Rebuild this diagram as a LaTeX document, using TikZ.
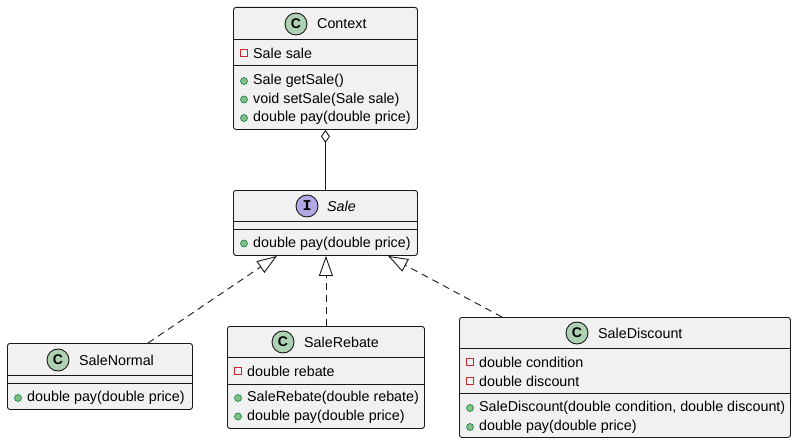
\documentclass[tikz,border=0pt]{standalone}
\usepackage{fontspec}
\setmainfont{Liberation Sans}
\newfontfamily\iconmono{Liberation Mono}
\usetikzlibrary{arrows.meta,calc}
\definecolor{boxfill}{HTML}{F1F1F1}
\definecolor{boxline}{HTML}{181818}
\definecolor{cfill}{HTML}{ADD1B2}
\definecolor{ifill}{HTML}{B4A7E5}
\definecolor{privred}{HTML}{C82930}
\definecolor{pubfill}{HTML}{84BE84}
\definecolor{publine}{HTML}{038048}
\tikzset{
  x=1pt,y=-1pt,
  umlbox/.style={draw=boxline,fill=boxfill,line width=0.9pt,rounded corners=2.5pt,anchor=north west,inner sep=0pt},
  sepline/.style={draw=boxline,line width=0.9pt},
  txt/.style={anchor=west,inner sep=0pt,font=\fontsize{14.3}{16}\selectfont,text=black},
  ticon/.style={circle,draw=boxline,line width=0.9pt,minimum size=22pt,inner sep=0pt,font=\fontsize{14}{16}\selectfont\bfseries},
  priv/.style={draw=privred,line width=0.9pt,minimum size=7pt,inner sep=0pt,rectangle},
  pub/.style={circle,draw=publine,fill=pubfill,line width=0.6pt,minimum size=7pt,inner sep=0pt},
  conn/.style={draw=boxline,line width=0.9pt},
  realize/.style={conn,dash pattern=on 7pt off 5pt,-{Triangle[open,length=20pt,width=14pt]}},
}
\begin{document}
\begin{tikzpicture}
\useasboundingbox (0,0) rectangle (796,444);
% ---------- Context
\node[umlbox,minimum width=184pt,minimum height=122pt] (ctx) at (233,7) {};
\draw[sepline] (233,39) -- (417,39);
\draw[sepline] (233,65) -- (417,65);
\node[ticon,fill=cfill] (ctxI) at (296,24) {C};
\node[txt] (ctxT) at (317,24) {Context};
\node[priv] (ctxa1i) at (244,53) {};
\node[txt] (ctxa1) at (253,53) {Sale sale};
\node[pub] (ctxm1i) at (244,81) {};
\node[txt] (ctxm1) at (253,81) {Sale getSale()};
\node[pub] (ctxm2i) at (244,99.5) {};
\node[txt] (ctxm2) at (253,99.5) {void setSale(Sale sale)};
\node[pub] (ctxm3i) at (244,118) {};
\node[txt] (ctxm3) at (253,118) {double pay(double price)};
% ---------- Sale
\node[umlbox,minimum width=184pt,minimum height=65pt] (sale) at (233,190) {};
\draw[sepline] (233,221) -- (417,221);
\draw[sepline] (233,229) -- (417,229);
\node[ticon,fill=ifill,font=\fontsize{15}{16}\selectfont\iconmono\bfseries] (saleI) at (307,206) {I};
\node[txt,font=\fontsize{14.3}{16}\selectfont\itshape] (saleT) at (327,206) {Sale};
\node[pub] (salem1i) at (244,243.5) {};
\node[txt] (salem1) at (253,243.5) {double pay(double price)};
% ---------- SaleNormal
\node[umlbox,minimum width=185pt,minimum height=66pt] (sn) at (7,343) {};
\draw[sepline] (7,375) -- (192,375);
\draw[sepline] (7,383) -- (192,383);
\node[ticon,fill=cfill] (snI) at (58,360) {C};
\node[txt] (snT) at (79,360) {SaleNormal};
\node[pub] (snm1i) at (18,398) {};
\node[txt] (snm1) at (27,398) {double pay(double price)};
% ---------- SaleRebate
\node[umlbox,minimum width=197pt,minimum height=102pt] (sr) at (227,326) {};
\draw[sepline] (227,357) -- (424,357);
\draw[sepline] (227,384) -- (424,384);
\node[ticon,fill=cfill] (srI) at (283,342) {C};
\node[txt] (srT) at (304,342) {SaleRebate};
\node[priv] (sra1i) at (238,371) {};
\node[txt] (sra1) at (247,371) {double rebate};
\node[pub] (srm1i) at (238,398) {};
\node[txt] (srm1) at (247,398) {SaleRebate(double rebate)};
\node[pub] (srm2i) at (238,416.5) {};
\node[txt] (srm2) at (247,416.5) {double pay(double price)};
% ---------- SaleDiscount
\node[umlbox,minimum width=331pt,minimum height=120pt] (sd) at (459,317) {};
\draw[sepline] (459,348) -- (790,348);
\draw[sepline] (459,393) -- (790,393);
\node[ticon,fill=cfill] (sdI) at (577,333) {C};
\node[txt] (sdT) at (598,333) {SaleDiscount};
\node[priv] (sda1i) at (470,362) {};
\node[txt] (sda1) at (479,362) {double condition};
\node[priv] (sda2i) at (470,381) {};
\node[txt] (sda2) at (479,381) {double discount};
\node[pub] (sdm1i) at (470,408) {};
\node[txt] (sdm1) at (479,408) {SaleDiscount(double condition, double discount)};
\node[pub] (sdm2i) at (470,427) {};
\node[txt] (sdm2) at (479,427) {double pay(double price)};
% ---------- connectors
\draw[conn,-{Diamond[open,length=13pt,width=9pt]}] (sale.north) -- (ctx.south);
\draw[realize] ($(sn.north west)+(141,0)$) -- ($(sale.south west)+(44,0)$);
\draw[realize] (sr.north) -- (sr.north |- sale.south);
\draw[realize] ($(sd.north west)+(43,0)$) -- ($(sale.south west)+(155,0)$);
\end{tikzpicture}
\end{document}
